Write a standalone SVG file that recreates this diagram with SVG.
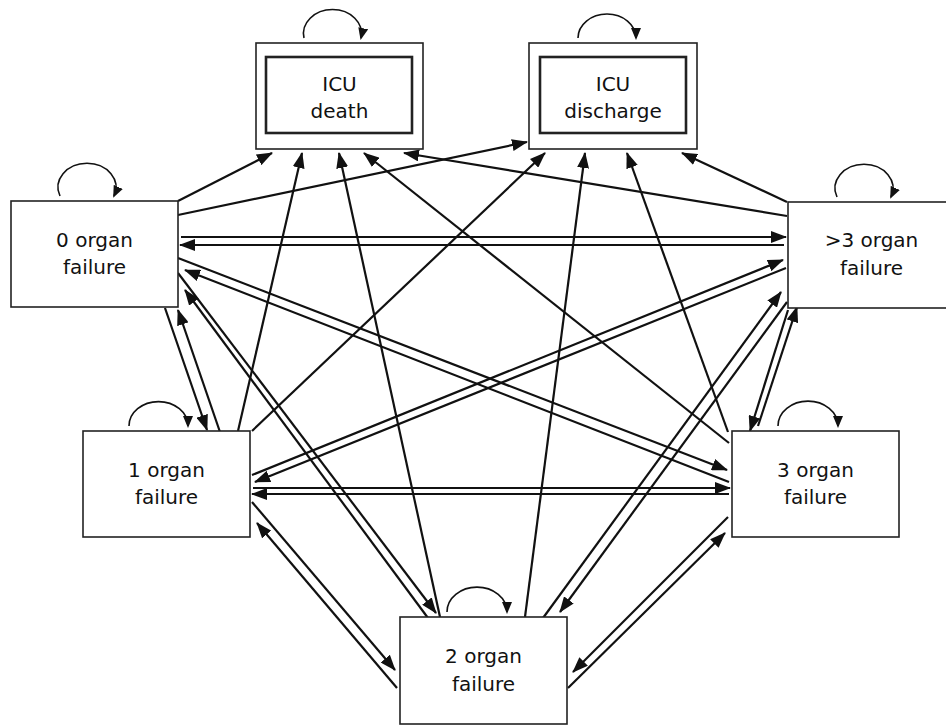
<svg xmlns="http://www.w3.org/2000/svg" width="946" height="725" viewBox="0 0 946 725">
<defs>
<marker id="ah" markerUnits="userSpaceOnUse" markerWidth="16" markerHeight="12" refX="15" refY="6" orient="auto">
<path d="M0,0 L16,6 L0,12 z" fill="#111"/>
</marker>
<marker id="lh" markerUnits="userSpaceOnUse" markerWidth="12" markerHeight="10" refX="10" refY="5" orient="auto">
<path d="M0,0 L12,5 L0,10 z" fill="#111"/>
</marker>
</defs>
<style>
.box{fill:#fff;stroke:#222;stroke-width:1.6}
.inner{fill:none;stroke:#222;stroke-width:2.6}
.t{font-family:"DejaVu Sans",Verdana,sans-serif;font-size:20px;fill:#111;text-anchor:middle}
.e{stroke:#111;stroke-width:2.2;fill:none;marker-end:url(#ah)}
.loop{stroke:#111;stroke-width:1.6;fill:none;marker-end:url(#lh)}
</style>
<rect width="946" height="725" fill="#fff"/>
<g id="connectors">
<path class="e" d="M178,201 L272,153"/>
<path class="e" d="M238,431 L302,153"/>
<path class="e" d="M440,617 L339,153"/>
<path class="e" d="M729,443 L364,153"/>
<path class="e" d="M787,216 L404,153"/>
<path class="e" d="M178,215 L527,142"/>
<path class="e" d="M252,431 L545,153"/>
<path class="e" d="M525,617 L585,153"/>
<path class="e" d="M728,432 L627,153"/>
<path class="e" d="M787,202 L682,153"/>
<path class="e" d="M181,237 L786,237"/>
<path class="e" d="M784,245 L180,245"/>
<path class="e" d="M253,488 L730,488"/>
<path class="e" d="M729,494 L252,494"/>
<path class="e" d="M165,308 L207,430"/>
<path class="e" d="M220,432 L178,310"/>
<path class="e" d="M178,273 L436,613"/>
<path class="e" d="M428,618 L185,290"/>
<path class="e" d="M178,258 L727,470"/>
<path class="e" d="M729,482 L185,270"/>
<path class="e" d="M252,475 L783,260"/>
<path class="e" d="M786,268 L255,482"/>
<path class="e" d="M252,502 L395,670"/>
<path class="e" d="M397,688 L257,523"/>
<path class="e" d="M728,517 L573,672"/>
<path class="e" d="M568,688 L725,533"/>
<path class="e" d="M543,618 L781,292"/>
<path class="e" d="M787,302 L560,612"/>
<path class="e" d="M758,426 L797,307"/>
<path class="e" d="M788,310 L750,431"/>
<path class="loop" d="M60,196 A29 24 0 1 1 114,196"/>
<path class="loop" d="M837,197 A29 24 0 1 1 891,197"/>
<path class="loop" d="M129,426 A29 24 0 1 1 188,426"/>
<path class="loop" d="M778,426 A29 24 0 1 1 838,426"/>
<path class="loop" d="M447,612 A29 24 0 1 1 507,612"/>
<path class="loop" d="M304,38 A29 24 0 1 1 361,38"/>
<path class="loop" d="M578,38 A29 24 0 1 1 636,38"/>
</g>
<g id="icu-death">
<rect class="box" x="256" y="43" width="167" height="106"/>
<rect class="inner" x="266" y="57" width="146" height="76"/>
<text class="t" x="339.5" y="91">ICU</text>
<text class="t" x="339.5" y="118">death</text>
</g>
<g id="icu-discharge">
<rect class="box" x="529" y="43" width="168" height="106"/>
<rect class="inner" x="540" y="57" width="146" height="76"/>
<text class="t" x="613" y="91">ICU</text>
<text class="t" x="613" y="118">discharge</text>
</g>
<g id="organ0">
<rect class="box" x="11" y="201" width="167" height="106"/>
<text class="t" x="94.5" y="247">0 organ</text>
<text class="t" x="94.5" y="274">failure</text>
</g>
<g id="organ4">
<rect class="box" x="788" y="202" width="167" height="106"/>
<text class="t" x="871.5" y="247">&gt;3 organ</text>
<text class="t" x="871.5" y="275">failure</text>
</g>
<g id="organ1">
<rect class="box" x="83" y="431" width="167" height="106"/>
<text class="t" x="166.5" y="477">1 organ</text>
<text class="t" x="166.5" y="504">failure</text>
</g>
<g id="organ3">
<rect class="box" x="732" y="431" width="167" height="106"/>
<text class="t" x="815.5" y="477">3 organ</text>
<text class="t" x="815.5" y="504">failure</text>
</g>
<g id="organ2">
<rect class="box" x="400" y="617" width="167" height="107"/>
<text class="t" x="483.5" y="663">2 organ</text>
<text class="t" x="483.5" y="691">failure</text>
</g>
</svg>
